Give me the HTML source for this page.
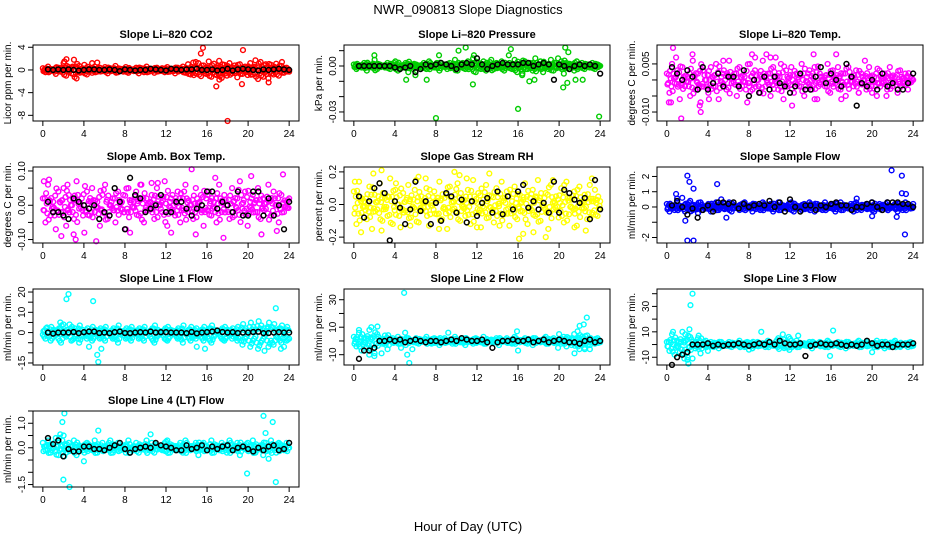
<!DOCTYPE html>
<html><head><meta charset="utf-8"><style>
body{margin:0;background:#fff}
svg{display:block;font-family:"Liberation Sans",Arial,sans-serif}
</style></head><body>
<svg id="c" width="936" height="540" viewBox="0 0 936 540">
<text x="468" y="14" text-anchor="middle" font-size="13">NWR_090813  Slope Diagnostics</text>
<text x="468" y="531" text-anchor="middle" font-size="13">Hour of Day (UTC)</text>
</svg>
<script>
// ---- data ----
const xTicks=[0,4,8,12,16,20,24];
const titles=["Slope Li\u2013820 CO2","Slope Li\u2013820 Pressure","Slope Li\u2013820 Temp.","Slope Amb. Box Temp.","Slope Gas Stream RH","Slope Sample Flow","Slope Line 1 Flow","Slope Line 2 Flow","Slope Line 3 Flow","Slope Line 4 (LT) Flow"];
const yLabels=["Licor ppm per min.","kPa per min.","degrees C per min.","degrees C per min.","percent per min.","ml/min per min.","ml/min per min.","ml/min per min.","ml/min per min.","ml/min per min."];
const seriesColors=["#ff0000","#00cc00","#ff00ff","#ff00ff","#ffff00","#0000ff","#00ffff","#00ffff","#00ffff","#00ffff"];
const yDomains=[[-9.0,4.4],[-0.0359,0.0137],[-0.0128,0.0109],[-0.1101,0.1116],[-0.236,0.23],[-2.36,2.62],[-16,21.5],[-17.5,37.8],[-16.1,43.7],[-1.6,1.5]];
const yTickVals=[[-8,-4,0,4],[-0.03,-0.02,-0.01,0,0.01],[-0.01,-0.005,0,0.005],[-0.1,-0.05,0,0.05,0.1],[-0.2,-0.1,0,0.1,0.2],[-2,-1,0,1,2],[-15,-10,-5,0,5,10,15,20],[-10,0,10,20,30],[-10,0,10,20,30,40],[-1.5,-1,-0.5,0,0.5,1,1.5]];
const yTickText=[["-8","-4","0","4"],["-0.03","","","0.00",""],["-0.010","","","0.005"],["-0.10","","0.00","","0.10"],["-0.2","","0.0","","0.2"],["-2","","0","1","2"],["-15","","","0","","10","","20"],["-10","","10","","30"],["-10","","10","","30",""],["-1.5","","","0.0","","1.0",""]];

const band1=[0.3,-0.4,0.6,-0.2,0.1,-0.7,0.4,-0.3,1.2,-1.0,0.5,-0.6,1.8,-1.5,0.7,-0.4,0.9,-0.8,0.2,-0.5,0.6,-0.3,0.4,-0.2,0.5,-0.6,0.3,-0.1,0.7,-0.4,0.2,-0.3,0.5,-0.5,0.1,-0.2,0.4,-0.6,0.3,-0.4,0.6,-0.3,0.2,-0.5,0.4,-0.2,0.3,-0.4,0.5,-0.3,0.2,-0.6,0.4,-0.1,0.6,-0.5,1.0,-0.8,1.3,-0.6,1.2,-1.1,0.8,-0.7,1.5,-1.2,1.1,-0.9,1.6,-1.4,0.9,-1.0,1.2,-0.6,0.8,-1.3,1.0,-0.7,0.6,-0.9,1.2,-0.8,1.7,-1.6,1.4,-1.2,1.0,-1.5,0.9,-0.8,1.1,-1.0,0.7,-0.5,0.4,-0.3];
const band2=[0.001,-0.002,0.000,-0.001,0.002,-0.003,0.001,-0.001,0.004,-0.002,0.001,0.000,-0.001,0.002,-0.002,0.001,0.003,-0.003,0.000,-0.001,0.002,-0.004,0.001,-0.002,0.001,0.000,-0.001,0.002,-0.002,0.003,0.001,-0.001,0.002,-0.003,0.000,0.001,-0.002,0.002,-0.001,0.004,-0.003,0.001,0.002,-0.002,0.003,-0.001,0.005,-0.004,0.002,-0.002,0.003,-0.003,0.001,0.004,-0.002,0.002,-0.001,0.003,-0.003,0.000,0.002,-0.002,0.004,-0.004,0.001,-0.005,0.003,-0.002,0.002,-0.003,0.005,-0.001,0.003,-0.004,0.001,-0.002,0.004,-0.003,0.002,-0.001,0.003,-0.005,0.002,-0.002,0.001,-0.003,0.003,-0.001,0.002,-0.002,0.001,-0.001,0.002,-0.002,0.001,0.000];
const band3=[0.002,-0.004,0.005,-0.001,0.003,-0.006,0.004,-0.002,0.001,-0.005,0.006,-0.003,0.002,-0.007,0.003,0.000,-0.004,0.004,-0.002,0.005,-0.006,0.001,0.003,-0.003,0.006,-0.001,0.002,-0.005,0.004,-0.002,0.001,-0.007,0.005,-0.003,0.003,0.000,-0.004,0.006,-0.002,0.002,-0.005,0.004,0.001,-0.003,0.005,-0.006,0.003,-0.001,0.004,-0.004,0.002,-0.002,0.005,-0.005,0.001,0.003,-0.003,0.004,-0.006,0.002,0.000,-0.002,0.005,-0.004,0.003,-0.001,0.004,-0.003,0.002,-0.005,0.004,0.001,-0.002,0.003,-0.004,0.002,0.000,-0.003,0.004,-0.002,0.001,-0.005,0.003,-0.001,0.002,-0.003,0.004,-0.002,0.001,-0.004,0.003,-0.001,0.002,-0.003,0.001,0.000];
const band4=[0.02,-0.05,0.06,-0.03,0.01,-0.07,0.04,-0.02,0.05,-0.06,0.03,0.00,-0.04,0.07,-0.01,0.02,-0.08,0.04,-0.03,0.05,-0.02,0.01,-0.06,0.03,0.06,-0.04,0.00,0.02,-0.05,0.04,-0.01,0.03,-0.07,0.05,-0.02,0.01,0.04,-0.03,0.06,-0.05,0.02,-0.01,0.03,-0.04,0.05,0.00,-0.02,0.07,-0.06,0.01,0.03,-0.03,0.04,-0.05,0.02,0.06,-0.02,0.00,-0.04,0.05,-0.01,0.03,-0.06,0.02,0.04,-0.03,0.01,-0.05,0.06,-0.02,0.03,0.00,-0.04,0.05,-0.03,0.02,0.07,-0.01,0.04,-0.06,0.01,0.03,-0.02,0.05,-0.04,0.02,-0.01,0.06,-0.03,0.04,0.00,-0.05,0.03,-0.02,0.01,0.02];
const band5=[0.08,-0.12,0.14,-0.05,0.02,-0.09,0.11,-0.15,0.06,-0.03,0.13,-0.10,0.04,-0.07,0.16,-0.12,0.09,0.00,-0.14,0.07,-0.04,0.12,-0.08,0.03,0.15,-0.11,0.05,-0.02,0.10,-0.13,0.01,0.08,-0.06,0.14,-0.09,0.04,-0.15,0.11,-0.03,0.06,0.13,-0.10,0.02,-0.07,0.09,-0.12,0.15,-0.05,0.07,-0.14,0.03,0.12,-0.08,0.05,-0.11,0.10,-0.01,0.14,-0.06,0.08,-0.13,0.02,0.11,-0.09,0.06,-0.04,0.13,-0.12,0.04,0.09,-0.07,0.15,-0.10,0.01,0.07,-0.15,0.12,-0.03,0.05,-0.08,0.10,-0.11,0.14,-0.06,0.03,0.08,-0.13,0.11,-0.02,0.06,-0.09,0.12,-0.05,0.09,-0.07,0.02];
const band6=[0.2,-0.3,0.1,-0.2,0.3,-0.1,0.0,-0.3,0.2,0.4,-0.2,0.1,-0.4,0.3,0.0,-0.1,0.2,-0.3,0.1,0.3,-0.2,0.0,0.2,-0.1,0.3,-0.3,0.1,0.0,-0.2,0.2,0.3,-0.1,0.1,-0.3,0.2,0.0,-0.2,0.3,0.1,-0.1,0.2,-0.3,0.0,0.3,-0.2,0.1,-0.1,0.2,0.3,-0.3,0.1,0.0,-0.2,0.2,-0.1,0.3,0.1,-0.3,0.2,0.0,-0.2,0.3,-0.1,0.1,0.2,-0.3,0.0,0.3,-0.2,0.1,-0.1,0.2,-0.3,0.3,0.0,-0.2,0.1,0.2,-0.1,0.3,-0.3,0.0,0.2,-0.2,0.1,0.3,-0.1,0.0,0.2,-0.3,0.1,-0.2,0.3,0.0,-0.1,0.2];
const band7=[-1,-3,0,-4,-2,1,-3,-5,-1,-2,0,-4,-3,-1,-5,-2,0,-3,-1,-4,-2,1,-3,-2,-4,0,-1,-3,-2,-5,-1,0,-3,-2,-4,-1,1,-3,-2,-4,0,-1,-3,-5,-2,-1,0,-3,-4,-2,1,-1,-3,-2,-5,0,-2,-4,-1,-3,0,-2,-4,-1,-3,-5,-2,0,-1,-3,-4,-2,1,-3,-1,-4,-2,-6,-3,-1,-7,-4,-2,-8,-5,-3,-1,-7,-4,-6,-2,-3,-5,-1,-4,-3];
const band8=[3,-4,6,-7,2,-5,8,-3,-9,5,1,-2,4,-6,0,2,-1,3,-2,1,-3,2,0,-1,2,-2,1,0,3,-1,-2,2,1,-3,0,2,-1,1,-2,3,0,-1,2,-3,1,0,-2,2,1,-1,3,-2,0,1,-1,2,-3,1,0,2,-1,-2,3,1,-1,0,2,-2,1,-3,2,0,-1,1,3,-2,0,2,-1,1,-2,3,-4,2,-3,5,-2,-6,3,-5,4,-3,1,-2,2,-1];
const band9=[2,-5,8,-8,3,-6,10,-4,-10,6,2,-3,5,-7,1,3,-1,2,-2,1,-3,2,0,-1,2,-2,1,0,3,-1,-2,2,1,-3,0,2,-1,1,-2,3,0,-1,2,5,1,4,-2,6,3,-1,3,-2,0,1,-1,2,-3,1,0,2,-1,-2,3,1,-1,0,2,-2,1,-3,2,0,-1,1,3,-2,0,2,-1,1,-2,3,-1,2,-3,0,-2,1,3,-1,-2,0,1,-2,2,-1];
const band10=[0.2,-0.1,0.3,-0.2,0.0,0.4,-0.3,0.1,0.5,-0.2,0.2,-0.1,0.3,-0.3,0.1,0.0,-0.2,0.2,0.1,-0.1,0.3,-0.2,0.0,0.2,-0.1,0.1,0.3,-0.2,0.0,0.2,-0.1,0.1,-0.2,0.3,0.0,-0.1,0.2,-0.2,0.1,0.0,0.3,-0.1,0.2,-0.2,0.1,0.0,-0.1,0.2,0.3,-0.2,0.1,-0.1,0.0,0.2,-0.2,0.3,0.1,-0.1,0.0,0.2,-0.3,0.1,0.2,-0.1,0.0,0.3,-0.2,0.1,-0.1,0.2,0.0,-0.2,0.3,0.1,-0.1,0.2,-0.3,0.0,0.1,0.2,-0.1,0.3,-0.2,0.0,0.1,-0.3,0.2,-0.1,0.3,0.0,-0.2,0.2,0.1,-0.1,0.2,0.0];

const out1=[[15.6,3.9],[15.4,2.9],[19.5,3.5],[16.9,-2.9],[18.0,-9.0],[19.4,-2.5],[22.0,-2.2],[2.3,1.9],[17.2,-1.7],[2.1,1.5],[4.8,1.2],[5.3,1.3],[14.9,1.4],[23.3,1.4]];
const out2=[[8.0,-0.034],[23.9,-0.033],[16.0,-0.028],[11.6,-0.012],[5.1,-0.009],[7.1,-0.009],[17.1,-0.010],[17.6,-0.009],[20.4,-0.014],[20.8,-0.011],[21.6,-0.009],[22.3,-0.009],[10.9,0.012],[10.2,0.010],[15.3,0.011],[20.6,0.012],[20.9,0.009],[2.0,0.007],[8.3,0.007],[11.7,0.007],[15.1,0.007],[19.9,0.005],[16.4,-0.006],[6.0,-0.006]];
const out3=[[0.6,0.010],[0.9,0.007],[2.5,0.008],[3.2,-0.008],[3.3,-0.010],[1.4,-0.012],[0.2,-0.007],[0.4,-0.007],[8.3,0.008],[8.6,0.007],[9.7,0.008],[10.1,0.007],[10.6,0.007],[14.3,0.008],[16.5,0.008],[12.2,-0.008],[14.4,-0.006],[17.0,-0.006],[21.4,-0.005],[4.1,-0.006],[5.5,0.006],[19.3,0.006],[20.0,-0.004],[18.7,-0.004]];
const out4=[[0.1,0.07],[0.6,0.075],[14.5,0.105],[23.4,0.09],[20.3,0.085],[16.8,0.08],[8.5,-0.08],[5.2,-0.105],[3.2,-0.10],[1.8,-0.09],[3.0,-0.085],[17.6,-0.095],[10.6,0.065],[11.2,0.065],[12.5,-0.08],[14.9,-0.085],[21.3,-0.085],[22.8,-0.075],[9.5,0.06],[2.4,0.06]];
const out5=[[2.7,0.21],[1.9,0.19],[9.8,0.20],[13.2,0.19],[10.3,0.18],[16.1,-0.21],[18.7,-0.20],[0.7,-0.17],[2.7,-0.16],[5.5,-0.13],[16.5,-0.18],[17.5,-0.17],[22.6,-0.16],[7.0,0.16],[6.3,0.17],[12.0,-0.14],[14.2,-0.13],[23.2,0.16],[0.1,0.14],[4.1,0.13],[8.3,-0.15],[20.5,0.12],[21.5,-0.14],[19.4,0.15],[11.0,0.16]];
const out6=[[0.9,0.85],[2.0,2.05],[2.2,1.65],[2.6,1.2],[1.8,-0.9],[2.0,-2.2],[2.6,-2.2],[4.9,1.5],[5.3,0.5],[5.8,-0.7],[20.0,-0.6],[21.9,2.4],[22.4,-0.65],[22.9,2.05],[22.9,0.9],[23.3,0.85],[23.2,-1.8],[1.0,0.55],[1.5,0.6],[18.5,0.55]];
const out7=[[2.3,16.5],[2.5,19],[4.9,15.5],[22.7,12],[1.7,5],[2.0,4],[2.6,4],[5.3,-11],[5.4,-14.5],[5.7,-8],[4.5,-7],[21.6,-9],[23.2,-8],[23.5,-7],[15.0,-7],[15.8,-8],[21.9,2],[0.4,2.5]];
const out8=[[0.5,8],[1.7,10],[2.0,-11],[1.5,-10],[2.3,10.5],[2.7,-9],[4.9,35],[5.0,6],[5.2,-10],[5.4,-16],[5.7,-6],[9.2,6],[15.9,7],[16.0,-7],[19.9,-5],[20.0,5],[21.5,-9],[21.8,7],[22.0,11],[22.4,12],[22.7,17],[22.5,-6],[23.0,-6],[4.6,-5]];
const out9=[[2.3,31],[2.5,40],[2.2,12],[0.6,10],[1.8,8],[3.1,7],[2.0,-12],[2.5,-11],[1.7,-11],[2.1,-15],[9.2,10],[16.2,11],[15.9,-9],[20.0,-6],[12.8,7],[11.3,8],[8.0,-4],[4.0,-5]];
const out10=[[2.1,1.4],[1.9,1.05],[1.7,0.55],[2.0,-1.3],[2.6,-1.6],[4.0,-0.55],[5.4,0.7],[10.5,0.55],[19.9,-1.05],[21.5,1.3],[22.4,1.05],[22.7,-1.4],[21.7,0.6],[22.0,-0.45],[1.6,0.4]];

const black1=[0.1,0,0.1,0,0.1,0,-0.1,0,0.1,0.1,0,0,0.1,0,-0.2,0.1,0,-0.1,0,0,0.2,0.1,0,-0.1,0.2,0.1,0,0.1,0.1,0.2,0,0,0.1,-0.1,0,0.2,-0.1,0.1,0.2,0.1,0,-0.1,0.1,0,0.1,0.2,0.1,0];
const black2=[0,0,0,0,0,0,0,-0.001,-0.002,-0.001,0,-0.004,-0.002,0.001,0,0.001,0.002,0.001,0,-0.002,0.001,0.002,0.001,0.005,0.001,-0.002,0,0.001,0.002,0.001,0.001,0.001,0.002,0.002,0,0.001,0.002,0.001,-0.009,0.001,0,-0.002,0,0.001,0,0.001,0,-0.005];
const black3=[0.004,0.002,0.000,0.003,0.001,-0.003,0.004,-0.003,-0.001,0.002,-0.002,0.001,0.001,-0.002,0.003,-0.005,0.000,-0.004,0.001,-0.003,0.001,-0.001,-0.002,-0.004,-0.002,0.002,-0.003,-0.003,0.001,0.004,-0.001,0.002,0.000,-0.002,0.005,0.001,-0.008,-0.001,-0.002,0.000,-0.003,0.002,-0.002,-0.001,-0.003,-0.003,-0.001,0.002];
const black4=[0.01,-0.02,-0.02,-0.03,-0.04,0.02,0.01,0.00,-0.01,0.00,-0.04,-0.02,-0.03,0.05,0.01,-0.07,0.08,0.03,0.02,-0.02,-0.01,0.00,0.03,-0.02,-0.02,0.01,0.01,-0.01,-0.03,-0.01,0.00,0.04,0.04,-0.01,0.01,0.00,-0.02,0.04,-0.03,-0.03,0.04,0.04,-0.03,0.02,-0.03,0.00,-0.07,0.01];
const black5=[0.05,-0.08,0.02,0.10,0.13,0.07,-0.22,0.02,-0.02,-0.12,-0.03,0.14,-0.04,0.02,-0.12,0.01,-0.10,0.07,0.05,-0.05,0.03,-0.11,0.02,-0.07,0.01,0.04,-0.05,0.08,-0.06,0.05,-0.03,0.08,0.12,-0.02,0.02,-0.03,0.01,-0.05,0.14,-0.05,0.09,0.07,0.03,0.01,0.04,-0.09,0.15,-0.03];
const black6=[0.1,0.4,0.0,-0.5,-0.1,-0.7,-0.2,0.1,-0.3,0.3,0.3,0.2,0.3,-0.1,0.2,0.0,0.1,0.2,0.1,0.4,0.0,0.3,-0.3,0.5,0.0,-0.3,0.1,0.1,-0.2,0.1,0.0,0.2,0.3,0.1,0.1,-0.2,0.0,0.0,0.2,0.3,0.0,-0.2,0.3,0.3,0.3,0.2,0.2,0.0];
const black7=[0,-0.5,0,0,0,0.3,-0.3,0.2,0.5,0.5,-0.2,0,-0.3,0.2,0.5,-0.2,-0.3,0,0.2,0,0.5,0,0.2,0.2,0,0,0,-0.3,0.3,-0.4,0,0.2,0.5,1,0.3,0,0.2,-0.2,0,0,0.3,0.4,-0.3,-0.2,0,0.2,0,0];
const black8=[-13,-7,-7,-5,0,0,1,0,1,-1,0,1,0,-1,0,0,-1,0,1,0,2,1,0,0,1,-1,-5,-1,0,0,1,0,0,1,-1,0,1,-1,0,1,0,-1,-1,-2,0,1,-1,0];
const black9=[-16,-10,-8,-6,0,0,0,1,-1,0,-1,0,0,1,0,-1,0,1,0,2,0,3,1,0,0,1,-9,-1,0,1,0,0,1,0,-1,0,-1,0,3,1,-1,0,0,-2,0,0,0,1];
const black10=[0.4,0.15,0.3,-0.35,-0.05,-0.15,-0.15,0.05,0.05,-0.05,-0.05,-0.1,0.0,0.1,0.2,-0.05,-0.2,-0.05,0.0,0.05,0.0,0.2,0.1,0.05,0.0,-0.1,-0.1,0.1,-0.05,0.0,0.1,-0.1,0.05,-0.05,0.05,0.1,-0.1,0.0,0.05,-0.05,-0.15,0.0,-0.1,0.05,0.1,-0.1,-0.05,0.2];

const bands=[band1,band2,band3,band4,band5,band6,band7,band8,band9,band10];
const outs=[out1,out2,out3,out4,out5,out6,out7,out8,out9,out10];
const blacks=[black1,black2,black3,black4,black5,black6,black7,black8,black9,black10];

// ---- layout ----
const NS="http://www.w3.org/2000/svg";
const svg=document.getElementById('c');
const colLeft=[33,344,657], rowTop=[45,167,289,411], W=266, H=76;
function mk(tag,attrs,parent){const e=document.createElementNS(NS,tag);for(const k in attrs)e.setAttribute(k,attrs[k]);(parent||svg).appendChild(e);return e;}

for(let p=0;p<10;p++){
  const L=colLeft[p%3], T=rowTop[Math.floor(p/3)];
  const [y0,y1]=yDomains[p];
  const xS=h=>L+(h+0.96)/25.92*W;
  const yS=v=>T+H-(v-y0)/(y1-y0)*H;
  const g=mk('g',{});
  
  
  const t=mk('text',{x:L+W/2,y:T-7,'text-anchor':'middle','font-size':11,'font-weight':'bold'},g);
  t.textContent=titles[p];
  
  
  const yl=mk('text',{transform:`translate(${L-22},${T+H/2}) rotate(-90)`,'text-anchor':'middle','font-size':10},g);
  yl.textContent=yLabels[p];
  
  
  const xa=mk('g',{},g);
  
  
  mk('line',{x1:xS(0),x2:xS(24),y1:T+H,y2:T+H,stroke:'#000'},xa);
  xTicks.forEach(h=>{
    mk('line',{x1:xS(h),x2:xS(h),y1:T+H,y2:T+H+5,stroke:'#000'},xa);
    const tt=mk('text',{x:xS(h),y:T+H+16,'text-anchor':'middle','font-size':10},xa);tt.textContent=h;
  });
  const ya=mk('g',{},g);
  
  
  yTickVals[p].forEach((v,i)=>{
    const y=yS(v);
    mk('line',{x1:L-5,x2:L,y1:y,y2:y,stroke:'#000'},ya);
    if(yTickText[p][i]){const tt=mk('text',{transform:`translate(${L-8},${y}) rotate(-90)`,'text-anchor':'middle','font-size':10},ya);tt.textContent=yTickText[p][i];}
  });
  const cs=mk('g',{fill:'none',stroke:seriesColors[p],'stroke-width':1.4},g);
  
  
  const b=bands[p];
  const n=b.length-1;
  b.forEach((v,i)=>{mk('circle',{cx:xS(i*24/n),cy:yS(v),r:2.4},cs);});
  b.forEach((v,i)=>{if(i<n){mk('circle',{cx:xS((i+0.5)*24/n),cy:yS((v+b[i+1])/2),r:2.4},cs);}});
  b.forEach((v,i)=>{if(i<n){mk('circle',{cx:xS((i+0.25)*24/n),cy:yS(-v*0.7),r:2.4},cs);}});
  b.forEach((v,i)=>{if(i<n){mk('circle',{cx:xS((i+0.75)*24/n),cy:yS(-b[i+1]*0.4),r:2.4},cs);}});
  outs[p].forEach(d=>{mk('circle',{cx:xS(d[0]),cy:yS(d[1]),r:2.4},cs);});
  const bs=mk('g',{fill:'none',stroke:'#000','stroke-width':1.5},g);
  
  
  blacks[p].forEach((v,i)=>{mk('circle',{cx:xS(0.5*(i+1)),cy:yS(v),r:2.4},bs);});
  const box=mk('rect',{x:L,y:T,width:W,height:H,fill:'none',stroke:'#000','stroke-width':1},g);
  
  
}
</script>
</body></html>
